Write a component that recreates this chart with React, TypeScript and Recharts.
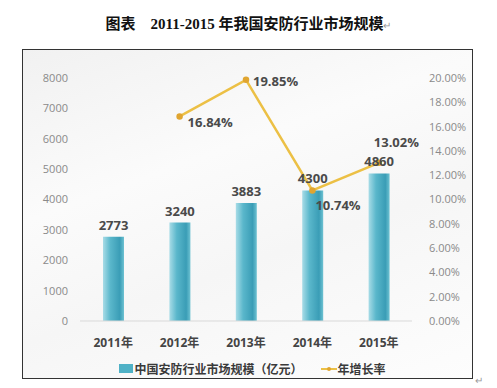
import React from 'react';
import {
  ComposedChart,
  Bar,
  Line,
  XAxis,
  YAxis,
  LabelList,
} from 'recharts';

// chart values
const years = ['2011年', '2012年', '2013年', '2014年', '2015年'];
const marketSize = [2773, 3240, 3883, 4300, 4860];
const growthRate = [null, 16.84, 19.85, 10.74, 13.02];
const leftTicks = [0, 1000, 2000, 3000, 4000, 5000, 6000, 7000, 8000];
const rightTicks = [0, 2, 4, 6, 8, 10, 12, 14, 16, 18, 20];

const data = years.map((year, i) => ({
  year,
  size: marketSize[i],
  rate: growthRate[i],
}));

// label nudges for the growth-rate labels, per point
const rateLabelOffset = [
  { dx: 0, dy: 0 },
  { dx: 8, dy: 6 },
  { dx: 7, dy: 1 },
  { dx: 3, dy: 14 },
  { dx: -5, dy: -21 },
];

const axisFont = { fontSize: 11, fill: '#8a8a8a', fontFamily: '"Open Sans", "Noto Sans", sans-serif' };

const RateLabel = (props: any) => {
  const { x, y, value, index } = props;
  if (value == null) return null;
  const off = rateLabelOffset[index] || { dx: 6, dy: 0 };
  return (
    <text
      x={x + off.dx}
      y={y + off.dy}
      dominantBaseline="central"
      textAnchor="start"
      fontSize={13}
      fontWeight="bold"
      fill="#4a4a4a"
      fontFamily='"Open Sans", "Noto Sans", sans-serif'
    >
      {value.toFixed(2)}%
    </text>
  );
};

export default function App() {
  return (
    <div
      style={{
        position: 'absolute',
        left: 0,
        top: 0,
        width: 497,
        height: 388,
        background: '#ffffff',
        fontFamily: '"Noto Sans CJK SC", sans-serif',
      }}
    >
      <div
        style={{
          position: 'absolute',
          left: 0,
          top: 12,
          width: 497,
          textAlign: 'center',
          fontSize: 15,
          fontWeight: 'bold',
          color: '#111',
          fontFamily: '"Liberation Serif", "Noto Sans CJK SC", serif',
        }}
      >
        图表　2011-2015 年我国安防行业市场规模<span style={{ color: '#999', fontSize: 10, fontWeight: 'normal' }}>↵</span>
      </div>

      <div
        style={{
          position: 'absolute',
          left: 22,
          top: 49,
          width: 451,
          height: 330,
          boxSizing: 'border-box',
          border: '1px solid #333',
          background: 'linear-gradient(160deg, #f1f1f1 0%, #fbfbfb 35%, #f6f6f6 60%, #fdfdfd 100%)',
        }}
      >
        <ComposedChart
          width={449}
          height={328}
          data={data}
          margin={{ top: 28, right: 0, bottom: 0, left: 0 }}
        >
          <defs>
            <linearGradient id="barFill" x1="0" y1="0" x2="1" y2="0">
              <stop offset="0%" stopColor="#a8dce7" />
              <stop offset="35%" stopColor="#5ab7cb" />
              <stop offset="80%" stopColor="#3a9db6" />
              <stop offset="100%" stopColor="#6ec2d2" />
            </linearGradient>
          </defs>
          <XAxis
            dataKey="year"
            height={57}
            tickSize={0}
            tickMargin={17}
            axisLine={{ stroke: '#d9d9d9' }}
            tickLine={false}
            tick={{ fontSize: 12, fontWeight: 'bold', fill: '#444', fontFamily: '"Open Sans", "Noto Sans CJK SC", sans-serif' }}
          />
          <YAxis
            yAxisId="left"
            width={57}
            domain={[0, 8000]}
            ticks={leftTicks}
            interval={0}
            tickSize={0}
            tickMargin={12}
            axisLine={false}
            tickLine={false}
            tick={axisFont}
          />
          <YAxis
            yAxisId="right"
            orientation="right"
            width={60}
            domain={[0, 20]}
            ticks={rightTicks}
            interval={0}
            tickSize={0}
            tickMargin={17}
            axisLine={false}
            tickLine={false}
            tick={{ ...axisFont, textAnchor: 'start' }}
            tickFormatter={(v: number) => v.toFixed(2) + '%'}
          />
          <Bar
            yAxisId="left"
            dataKey="size"
            barSize={21}
            fill="url(#barFill)"
            isAnimationActive={false}
          >
            <LabelList
              dataKey="size"
              position="top"
              offset={7}
              style={{ fontSize: 13, fontWeight: 'bold', fill: '#4a4a4a', fontFamily: '"Open Sans", "Noto Sans", sans-serif' }}
            />
          </Bar>
          <Line
            yAxisId="right"
            dataKey="rate"
            stroke="#ecc045"
            strokeWidth={2.5}
            dot={{ r: 2, fill: '#e0a530', stroke: '#e0a530' }}
            connectNulls
            isAnimationActive={false}
          >
            <LabelList dataKey="rate" content={RateLabel} />
          </Line>
        </ComposedChart>

        <div
          style={{
            position: 'absolute',
            left: 0,
            top: 310,
            width: 449,
            display: 'flex',
            justifyContent: 'center',
            alignItems: 'center',
            fontSize: 12,
            fontWeight: 'bold',
            color: '#3a3a3a',
            paddingLeft: 10,
            boxSizing: 'border-box',
          }}
        >
          <span style={{ display: 'inline-block', width: 14, height: 9, background: '#4fb1c6', marginRight: 1 }} />
          <span>中国安防行业市场规模（亿元）</span>
          <span style={{ display: 'inline-block', position: 'relative', width: 16, height: 9, marginLeft: 18, marginRight: 1 }}>
            <span style={{ position: 'absolute', left: 0, top: 4, width: 16, height: 2, background: '#ecc045' }} />
            <span style={{ position: 'absolute', left: 6, top: 3, width: 4, height: 4, borderRadius: 2, background: '#e0a530' }} />
          </span>
          <span>年增长率</span>
        </div>
      </div>
      <div style={{ position: 'absolute', left: 475, top: 372, fontSize: 10, color: '#999' }}>↵</div>
    </div>
  );
}
